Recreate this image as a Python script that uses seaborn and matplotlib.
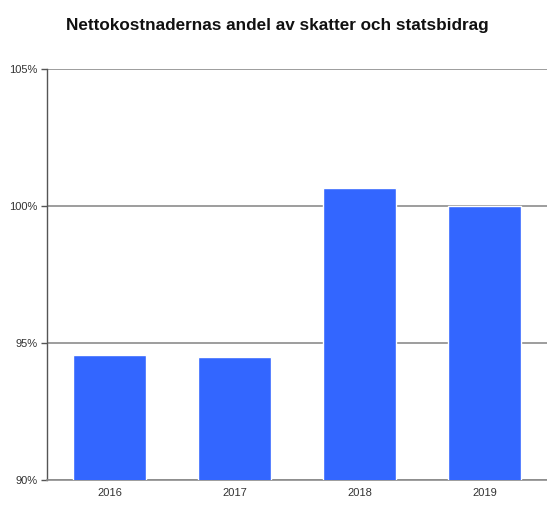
import numpy as np
import pandas as pd
import matplotlib
matplotlib.use("Agg")
import matplotlib.pyplot as plt
import seaborn as sns

years = ["2016", "2017", "2018", "2019"]
andel = [94.55, 94.48, 100.65, 100.0]
y_ticks = [90, 95, 100, 105]
title = "Nettokostnadernas andel av skatter och statsbidrag"

df = pd.DataFrame({"year": years, "andel": andel})

sns.set_style("white")
plt.rcParams['font.family'] = ['Liberation Sans', 'DejaVu Sans']

fig = plt.figure(figsize=(5.47, 5.22), dpi=100)
ax = fig.add_axes([0.0859, 0.0805, 0.9141, 0.7873])

sns.barplot(data=df, x="year", y="andel", color="#3366FF", saturation=1,
            width=0.58, ax=ax, zorder=3)

ax.set_ylim(90, 105)
ax.set_xlim(-0.5, 3.5)
ax.set_yticks(y_ticks)
ax.set_yticklabels([f"{v}%" for v in y_ticks])
ax.yaxis.grid(True, color="#8c8c8c", linewidth=1.2, zorder=0)
ax.set_axisbelow(True)
ax.set_xlabel("")
ax.set_ylabel("")

# ticks between categories
ax.set_xticks(np.arange(-0.5, 3.6, 1.0), minor=True)
ax.tick_params(axis="x", which="major", length=0, labelsize=8, colors="#333333", pad=6)
ax.tick_params(axis="x", which="minor", length=4, width=1, color="#555555", direction="out")
ax.tick_params(axis="y", length=4, width=1, color="#555555", direction="out",
               labelsize=8, labelcolor="#333333", left=True, pad=3)

for side in ["top", "right"]:
    ax.spines[side].set_visible(False)
ax.spines["left"].set_color("#555555")
ax.spines["left"].set_linewidth(1)
ax.spines["bottom"].set_color("#8c8c8c")
ax.spines["bottom"].set_linewidth(1.2)

fig.suptitle(title, x=0.507, y=0.966, fontsize=12.3, fontweight="bold", color="#111111")

fig.savefig("out.png", dpi=100)
